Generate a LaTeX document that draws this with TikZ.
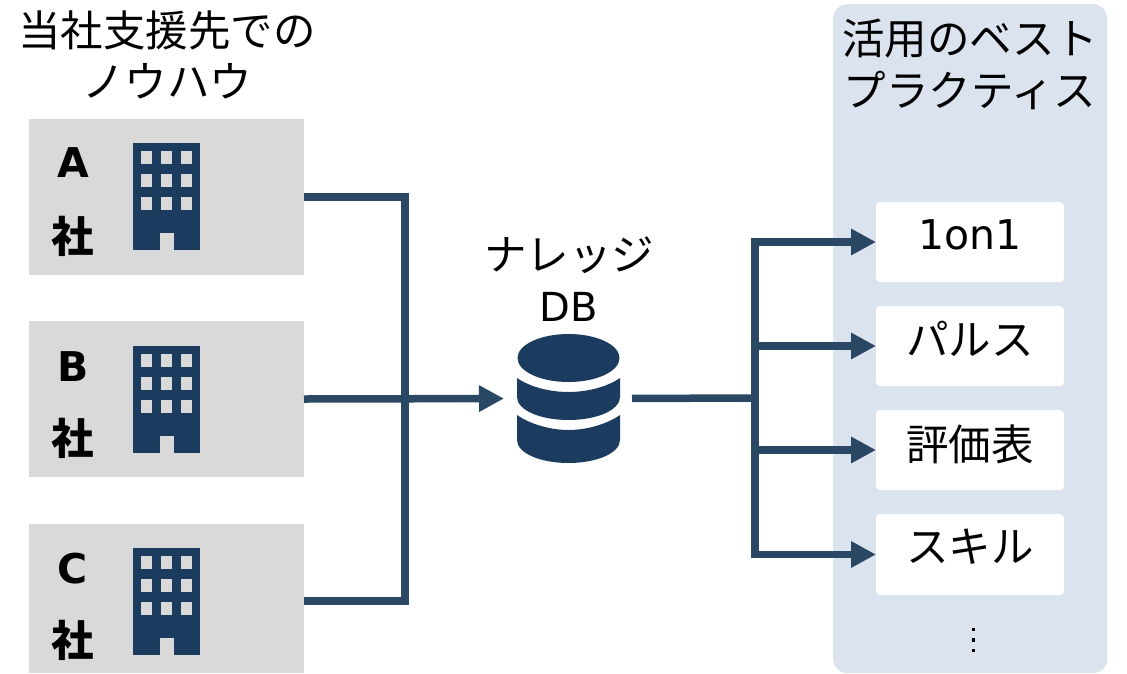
\documentclass[tikz,border=0pt]{standalone}
\usepackage{fontspec}
\usetikzlibrary{arrows.meta,calc}
\newfontfamily\jpf{Noto Sans CJK JP}
\newfontfamily\latf{DejaVu Sans}
\definecolor{navy}{HTML}{1B3B5F}
\definecolor{linec}{HTML}{2A4763}
\definecolor{graybox}{HTML}{D9D9D9}
\definecolor{panelc}{HTML}{DAE3EE}
\tikzset{
 x=1pt,y=-1pt,
 companybox/.style={fill=graybox,minimum width=275pt,inner sep=0pt,outer sep=0pt,anchor=north west},
 itembox/.style={fill=white,rounded corners=4pt,minimum width=188pt,minimum height=80pt,inner sep=0pt,outer sep=0pt,anchor=north west},
 itemtext/.style={font=\jpf\fontsize{42.5}{46}\selectfont,inner sep=0pt},
 headtext/.style={font=\jpf\fontsize{42.5}{51}\selectfont,align=center,inner sep=0pt},
 bigletter/.style={font=\latf\bfseries\fontsize{41}{44}\selectfont,inner sep=0pt},
 sha/.style={font=\jpf\bfseries\fontsize{42.5}{44}\selectfont,inner sep=0pt},
 link/.style={draw=linec,line width=7.5pt},
 arrowlink/.style={link,-{Triangle[length=25pt,width=25pt]}},
 windowc/.style={fill=graybox,draw=none}
}
\newcommand{\buildingicon}[1]{%
 \begin{scope}[yshift=-#1pt]
 \fill[navy] (133,143) rectangle (200,250);
 \foreach \wx in {141,161,181}\foreach \wy in {151,174,197}
   \fill[windowc] (\wx,\wy) rectangle ++(11,13);
 \fill[windowc] (160,233) rectangle (174,250);
 \end{scope}}
\begin{document}
\begin{tikzpicture}
\useasboundingbox (0,0) rectangle (1127,673);
% panel
\node[fill=panelc,rounded corners=14pt,minimum width=274pt,minimum height=669pt,inner sep=0pt,anchor=north west] (panel) at (833,4) {};
% company boxes
\node[companybox,minimum height=156pt] (boxa) at (29,119) {};
\node[companybox,minimum height=156pt] (boxb) at (29,321) {};
\node[companybox,minimum height=149pt] (boxc) at (29,524) {};
\buildingicon{0}
\buildingicon{203}
\buildingicon{405}
\node[bigletter] (la) at (73,163) {A};
\node[sha] (sa) at (73,236.5) {社};
\node[bigletter] (lb) at (73,367) {B};
\node[sha] (sb) at (73,438.5) {社};
\node[bigletter] (lc) at (73,569) {C};
\node[sha] (sc) at (73,640.5) {社};
% titles
\node[headtext] (t1) at (167,55) {当社支援先での\\ノウハウ};
\node[headtext,font=\jpf\fontsize{42.5}{52}\selectfont] (t2) at (970,64.5) {活用のベスト\\プラクティス};
\node[headtext] (t3) at (569,279) {ナレッジ\\{\latf\fontsize{40}{44}\selectfont DB}};
% item boxes
\node[itembox] (i1) at (876,202) {};
\node[itembox] (i2) at (876,306) {};
\node[itembox] (i3) at (876,410) {};
\node[itembox,minimum height=81pt] (i4) at (876,514) {};
\node[itemtext,font=\latf\fontsize{41}{44}\selectfont] (x1) at (970,235) {1on1};
\node[itemtext] (x2) at (970,339) {パルス};
\node[itemtext] (x3) at (970,444) {評価表};
\node[itemtext] (x4) at (970,547) {スキル};
\node[inner sep=0pt] (dots) at (973.5,640) {\tikz[x=1pt,y=-1pt]{\foreach \dy in {0,10.5,21}\fill (0,\dy) rectangle ++(3.6,3.6);}};
% DB icon
\node[minimum width=103pt,minimum height=129pt,inner sep=0pt,outer sep=0pt] (db) at (568.5,398.5) {};
\fill[navy] (568.5,358) ellipse [x radius=51,y radius=24];
\fill[navy] (517,378) .. controls (530,387) and (550,392) .. (568.5,392) .. controls (587,392) and (607,387) .. (620,378) -- (620,397) .. controls (620,410) and (597,420) .. (568.5,420) .. controls (540,420) and (517,410) .. (517,397) -- cycle;
\fill[navy] (517,415) .. controls (530,424) and (550,430) .. (568.5,430) .. controls (587,430) and (607,424) .. (620,415) -- (620,440) .. controls (620,453) and (597,463) .. (568.5,463) .. controls (540,463) and (517,453) .. (517,440) -- cycle;
% connectors
\coordinate (jl) at (405,399);
\coordinate (jr) at (755,398);
\draw[link,line join=miter] (boxa.east) -- (boxa.east -| jl) -- (jl);
\draw[link,line join=miter] ($(boxc.east)+(0,2.5)$) -- ($(boxc.east -| jl)+(0,2.5)$) -- (jl);
\draw[arrowlink,shorten >=13pt] (boxb.east) -- (db.west);
\draw[link,shorten <=12pt] (db.east) -- (jr);
\draw[arrowlink] (jr) |- (i1.west);
\draw[arrowlink] (jr) |- (i2.west);
\draw[arrowlink] (jr) |- (i3.west);
\draw[arrowlink] (jr) |- (i4.west);
\end{tikzpicture}
\end{document}
